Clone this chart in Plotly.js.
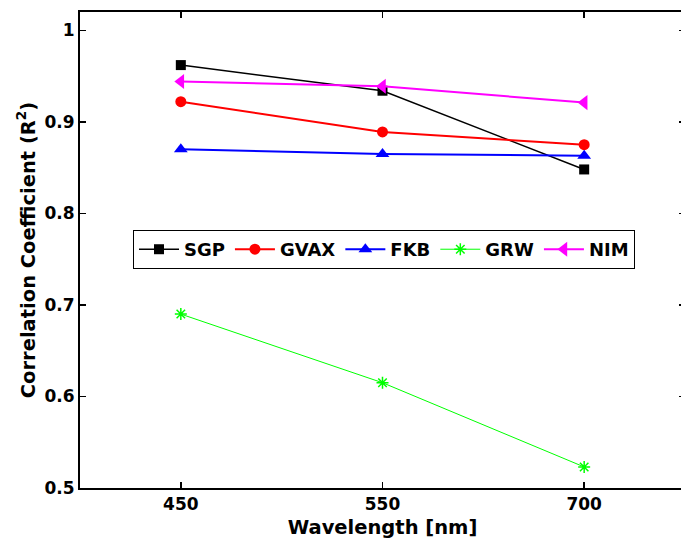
<!DOCTYPE html>
<html>
<head>
<meta charset="utf-8">
<script src="https://cdn.plot.ly/plotly-3.0.1.min.js"></script>
<style>
html,body{margin:0;padding:0;overflow:hidden;background:#fff;}
#chart{width:690px;height:541px;}
</style>
</head>
<body>
<div id="chart"></div>
<script>
// Data
const wavelengths = ['450', '550', '700'];
const xpos = [1, 2, 3];
const SGP  = [0.962, 0.934, 0.848];
const GVAX = [0.922, 0.889, 0.875];
const FKB  = [0.870, 0.865, 0.863];
const GRW  = [0.690, 0.615, 0.523];
const NIM  = [0.944, 0.939, 0.921];
const yTickVals = [0.5, 0.6, 0.7, 0.8, 0.9, 1];
const yTickText = ['0.5', '0.6', '0.7', '0.8', '0.9', '1'];

const FONT = 'DejaVu Sans, Liberation Sans, Arial, sans-serif';

function tr(name, y, color, symbol, size, lw, mline) {
  return {
    x: xpos, y: y, name: name, type: 'scatter', mode: 'lines+markers',
    line: {color: color, width: lw},
    marker: {symbol: symbol, size: size, color: color, line: {color: color, width: mline || 0}}
  };
}

const data = [
  tr('SGP', SGP, '#000000', 'square', 10, 1.5),
  tr('GVAX', GVAX, '#ff0000', 'circle', 11, 2),
  tr('FKB', FKB, '#0000ff', 'triangle-up', 12, 2),
  tr('GRW', GRW, '#00ff00', 'asterisk-open', 10, 1, 1.5),
  tr('NIM', NIM, '#ff00ff', 'triangle-left', 13, 2)
];

const layout = {
  width: 690, height: 541,
  margin: {l: 80, r: 5, t: 12, b: 53},
  paper_bgcolor: '#ffffff', plot_bgcolor: '#ffffff',
  font: {family: FONT, color: '#000000', size: 17, weight: 'bold'},
  showlegend: true,
  legend: {
    orientation: 'h', x: 0.0876, xanchor: 'left', y: 0.501, yanchor: 'middle',
    itemwidth: 40,
    bordercolor: '#000000', borderwidth: 1, bgcolor: '#ffffff',
    font: {family: FONT, size: 18, weight: 'bold', color: '#000000'}
  },
  xaxis: {
    range: [0.5, 3.5], tickmode: 'array', tickvals: xpos, ticktext: wavelengths,
    ticks: 'inside', ticklen: 6, tickwidth: 1.5, tickcolor: '#000000',
    showline: true, linecolor: '#000000', linewidth: 2, mirror: 'ticks',
    showgrid: false, zeroline: false,
    tickfont: {family: FONT, size: 17, weight: 'bold'},
    title: {text: 'Wavelength [nm]', font: {family: FONT, size: 19.5, weight: 'bold'}, standoff: 7}
  },
  yaxis: {
    range: [0.5, 1.02], tickmode: 'array', tickvals: yTickVals, ticktext: yTickText,
    ticks: 'inside', ticklen: 6, tickwidth: 1.5, tickcolor: '#000000',
    showline: true, linecolor: '#000000', linewidth: 2, mirror: 'ticks',
    showgrid: false, zeroline: false,
    tickfont: {family: FONT, size: 17, weight: 'bold'},
    title: {text: 'Correlation Coefficient (R<sup>2</sup>)', font: {family: FONT, size: 19.5, weight: 'bold'}, standoff: 4}
  }
};

Plotly.newPlot('chart', data, layout, {displayModeBar: false, staticPlot: true});
</script>
</body>
</html>
